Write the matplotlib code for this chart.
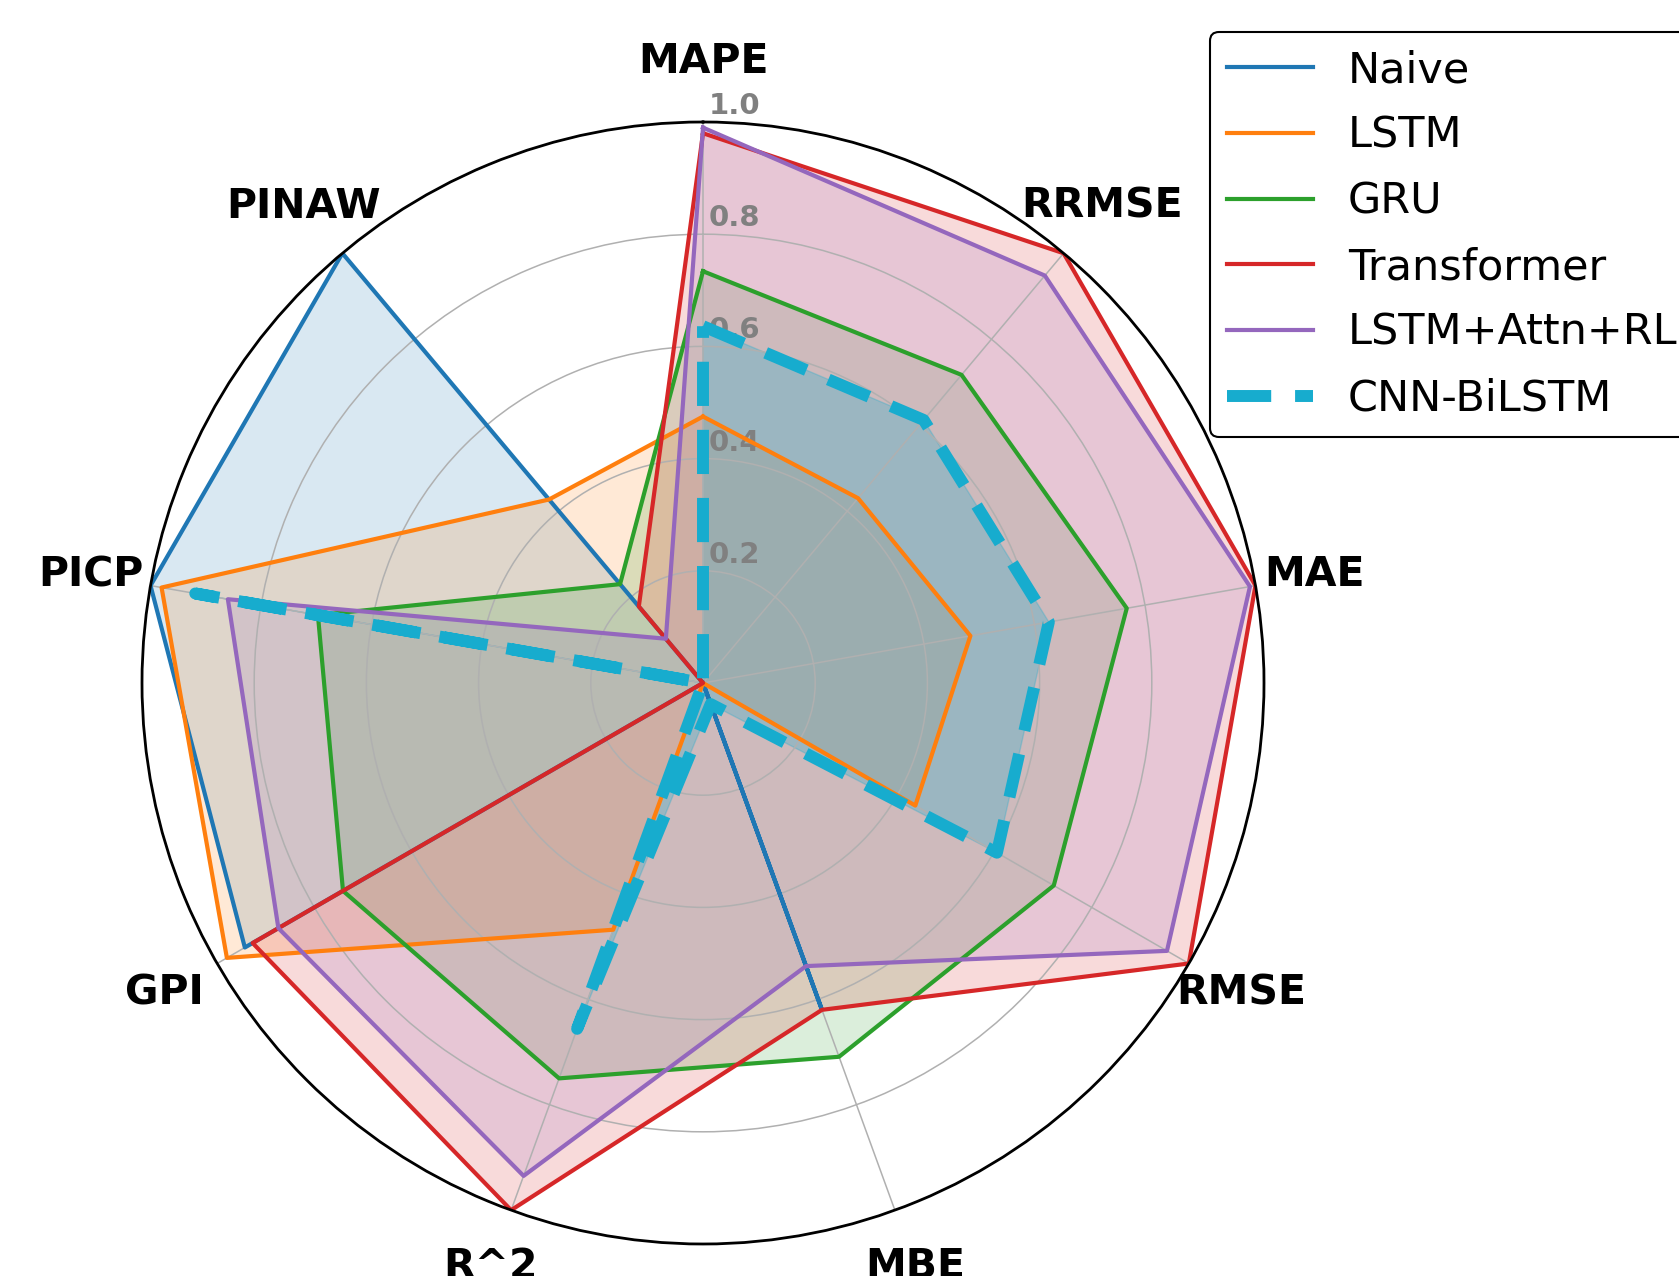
import numpy as np
import matplotlib
matplotlib.use("Agg")
import matplotlib.pyplot as plt
from matplotlib.transforms import ScaledTranslation

# Metrics (clockwise from the top) and normalised scores per model
categories = ["MAPE", "RRMSE", "MAE", "RMSE", "MBE", "R^2", "GPI", "PICP", "PINAW"]

naive       = [0.00, 0.00, 0.00, 0.00, 0.617, 0.00, 0.943, 1.00, 1.00]
lstm        = [0.475, 0.43, 0.484, 0.437, 0.00, 0.468, 0.98, 0.98, 0.427]
gru         = [0.734, 0.717, 0.767, 0.722, 0.709, 0.75, 0.741, 0.697, 0.23]
transformer = [0.98, 1.00, 1.00, 1.00, 0.62, 1.00, 0.927, 0.00, 0.178]
lstm_attn   = [0.99, 0.948, 0.99, 0.955, 0.537, 0.935, 0.874, 0.86, 0.103]
cnn_bilstm  = [0.636, 0.612, 0.626, 0.605, 0.04, 0.656, 0.00, 0.919, 0.00]

model_names = ["Naive", "LSTM", "GRU", "Transformer", "LSTM+Attn+RL", "CNN-BiLSTM"]
model_scores = [naive, lstm, gru, transformer, lstm_attn, cnn_bilstm]
model_colors = ["#1f77b4", "#ff7f0e", "#2ca02c", "#d62728", "#9467bd", "#17acce"]

r_ticks = [0.2, 0.4, 0.6, 0.8, 1.0]
r_tick_labels = ["0.2", "0.4", "0.6", "0.8", "1.0"]

W, H, DPI = 1679, 1276, 100
fig = plt.figure(figsize=(W / DPI, H / DPI), dpi=DPI)

cx, cy, rad = 703, 683, 561
ax = fig.add_axes([(cx - rad) / W, (H - cy - rad) / H, 2 * rad / W, 2 * rad / H],
                  projection="polar")
ax.set_theta_offset(np.pi / 2)
ax.set_theta_direction(-1)

angles = np.linspace(0, 2 * np.pi, len(categories), endpoint=False)
angles_closed = np.concatenate([angles, angles[:1]])

for name, vals, col in zip(model_names, model_scores, model_colors):
    v = np.concatenate([vals, vals[:1]])
    if name == "CNN-BiLSTM":
        ax.plot(angles_closed, v, color=col, lw=8.6, linestyle=(0, (3.7, 2.0)),
                label=name)
        ax.fill(angles_closed, v, color=col, alpha=0.28)
    else:
        ax.plot(angles_closed, v, color=col, lw=3.0, label=name)
        ax.fill(angles_closed, v, color=col, alpha=0.17)

ax.set_ylim(0, 1)
ax.set_xticks(angles)
ax.set_xticklabels(categories, fontsize=29.5, fontweight="bold")
ax.tick_params(axis="x", pad=33)
ax.set_yticks(r_ticks)
ax.set_yticklabels(r_tick_labels, fontsize=21, fontweight="bold", color="grey")
ax.set_rlabel_position(0)
shift = ScaledTranslation(6 / DPI, 2 / DPI, fig.dpi_scale_trans)
for lab in ax.get_yticklabels():
    lab.set_transform(lab.get_transform() + shift)
ax.grid(color="#b0b0b0", lw=1.1)
ax.spines["polar"].set_linewidth(2.0)
ax.spines["polar"].set_color("black")

leg = fig.legend(loc="upper left", bbox_to_anchor=(1210 / W, 1 - 32 / H),
                 bbox_transform=fig.transFigure, fontsize=31, borderaxespad=0,
                 labelspacing=0.55, framealpha=1, edgecolor="black")
leg.get_frame().set_linewidth(1.5)

fig.savefig("out.png", dpi=DPI)
